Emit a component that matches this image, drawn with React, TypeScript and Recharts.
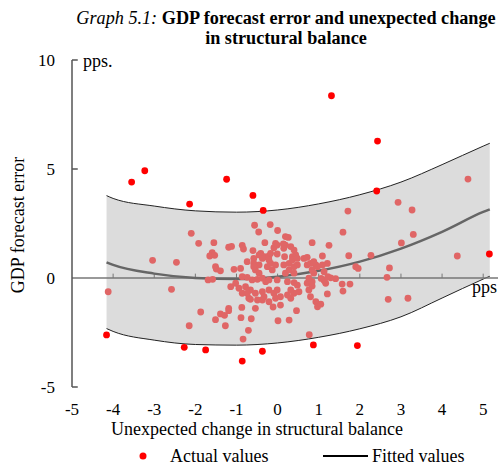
import { ComposedChart, Area, Line, Scatter, XAxis, YAxis, ReferenceLine } from 'recharts';

const FONT = '"Liberation Serif", "Times New Roman", serif';

// fitted quadratic and its confidence band, read at these x positions
const bandX = [-4.16, -4, -3, -2, -1, 0, 1, 2, 3, 4, 5, 5.16];
const fitted = [0.72, 0.6, 0.2, 0.0, -0.05, 0.06, 0.33, 0.75, 1.35, 2.12, 3.03, 3.15];
const bandHigh = [3.78, 3.65, 3.3, 3.08, 3.02, 3.12, 3.4, 3.82, 4.4, 5.2, 6.05, 6.18];
const bandLow = [-2.32, -2.45, -2.85, -3.05, -3.08, -2.98, -2.72, -2.33, -1.78, -0.92, -0.05, 0.08];

const xTicks = [-5, -4, -3, -2, -1, 0, 1, 2, 3, 4, 5];
const yTicks = [-5, 0, 5, 10];

// actual values outside the band (bright red)
const outsidePoints = [
  [-3.55, 4.4], [-3.23, 4.92], [-2.14, 3.39], [-1.24, 4.53], [-0.6, 3.79], [-0.35, 3.1],
  [1.31, 8.36], [2.43, 6.28], [2.41, 3.99], [5.15, 1.1], [-4.16, -2.61], [-2.27, -3.18],
  [-1.75, -3.3], [-0.86, -3.81], [-0.37, -3.36], [0.87, -3.07], [1.94, -3.1],
];

// actual values inside the band
const insidePoints = [
  [-0.56, 2.42], [-0.18, 2.45], [-0.46, 2.11], [0.0, 2.18], [-2.1, 2.05], [-1.92, 1.59],
  [-1.55, 1.62], [-1.19, 1.41], [-1.12, 1.45], [-0.86, 1.5], [-0.83, 1.33], [-0.6, 1.26],
  [-0.31, 1.62], [-0.05, 1.59], [-0.09, 1.39], [-1.59, 1.16], [-1.65, 1.01], [-1.53, 1.04],
  [-0.41, 1.13], [-0.32, 0.98], [-0.21, 1.01], [-0.17, 1.13], [-0.45, 1.06], [-0.58, 0.9],
  [-0.74, 0.75], [-3.04, 0.81], [-2.46, 0.72], [-1.51, 0.52], [-1.06, 0.4], [-0.9, 0.44],
  [-1.49, 0.41], [-1.39, 0.33], [-0.58, 0.67], [-0.54, 0.37], [-0.45, 0.22], [-0.25, 0.52],
  [-0.17, 0.67], [-0.13, 0.37], [-0.37, 0.9], [-0.21, 0.83], [-0.45, 0.6], [-0.58, 0.52],
  [-0.86, 0.06], [-0.74, 0.03], [-0.62, -0.09], [-0.49, -0.06], [-0.37, -0.01], [-0.29, -0.17],
  [-0.21, -0.09], [-1.69, -0.09], [-1.58, -0.06], [-1.14, -0.4], [-1.02, -0.24], [-0.94, -0.47],
  [-0.78, -0.4], [-0.66, -0.55], [-0.54, -0.7], [-0.37, -0.63], [-0.21, -0.55], [-0.09, -0.7],
  [-0.7, -0.93], [-0.37, -1.01], [-0.21, -1.09], [-0.49, -1.01], [-0.33, -0.86], [-0.66, -0.98],
  [-0.74, -0.7], [-0.86, -0.7], [-1.19, -1.39], [-0.54, -1.39], [-0.11, -1.33], [-4.12, -0.63],
  [-2.58, -0.52], [-1.87, -1.56], [-1.51, -1.91], [-2.15, -2.19], [-1.39, -1.65], [-1.29, -1.71],
  [-1.19, -1.5], [-1.27, -2.19], [-0.89, -1.82], [-0.64, -1.87], [-0.87, -1.35], [-0.71, -2.4],
  [-0.84, -2.8], [0.01, -1.96], [0.28, -1.93], [0.46, -1.5], [-0.05, -0.93], [0.07, -0.86],
  [0.24, -0.78], [0.4, -0.7], [0.52, -0.63], [0.07, -1.24], [0.32, -0.93], [-0.01, -0.55],
  [0.76, -0.55], [0.8, -0.86], [0.93, -1.09], [0.97, -1.32], [1.05, -1.2], [0.77, -2.6],
  [1.57, -0.28], [1.76, -0.28], [1.59, -0.6], [1.41, -0.03], [1.21, -0.73], [1.13, -0.12],
  [1.06, -0.02], [1.17, -0.24], [1.29, 0.01], [1.22, 0.06], [1.13, 0.29], [0.72, -0.24],
  [0.84, -0.37], [0.84, -0.17], [0.76, -0.01], [0.48, -0.33], [0.32, -0.55], [0.4, -0.21],
  [0.24, -0.17], [-0.01, -0.09], [0.19, 0.22], [0.4, 0.22], [0.28, 0.37], [0.88, 0.22],
  [0.84, 0.37], [-0.05, 0.6], [0.15, 0.6], [0.28, 0.67], [0.4, 0.52], [0.48, 0.6],
  [0.72, 0.6], [0.93, 0.6], [0.97, 0.52], [1.09, 0.6], [1.21, 0.67], [0.8, 0.67],
  [0.88, 0.75], [0.64, 0.9], [0.72, 0.95], [0.36, 0.98], [0.17, 0.98], [0.44, 1.06],
  [-0.01, 1.1], [1.09, 1.01], [0.36, 0.83], [0.48, 0.9], [-0.01, 1.51], [0.19, 1.51],
  [0.32, 1.44], [0.14, 1.56], [0.15, 1.36], [0.4, 1.28], [0.84, 1.62], [0.19, 1.9],
  [0.26, 1.86], [1.25, 1.5], [1.59, 2.1], [1.71, 3.07], [2.93, 3.47], [3.27, 3.12],
  [3.3, 2.0], [3.01, 1.61], [4.63, 4.54], [4.37, 1.01], [1.73, 1.02], [2.27, 1.04],
  [2.72, 0.46], [1.9, 0.52], [1.96, 0.44], [2.66, 0.03], [2.69, -0.98], [3.17, -0.93],
];

const chartData = bandX.map((x, i) => ({ x, band: [bandLow[i], bandHigh[i]], fit: fitted[i] }));
const toXY = (pts: number[][]) => pts.map(([x, y]) => ({ x, y }));

const XTick = ({ x, y, payload }: any) => (
  <text x={x} y={y + 28} textAnchor="middle" fontFamily={FONT} fontSize={17} fill="#000">
    {payload.value}
  </text>
);

const YTick = ({ x, y, payload }: any) => (
  <text x={x - 17} y={y + 6} textAnchor="end" fontFamily={FONT} fontSize={17} fill="#000">
    {payload.value}
  </text>
);

export default function App() {
  return (
    <div style={{ position: 'absolute', left: 0, top: 0, width: 498, height: 467, background: '#fff' }}>
      <ComposedChart
        width={498}
        height={467}
        data={chartData}
        margin={{ top: 60, right: 0, left: 0, bottom: 50 }}
      >
        <XAxis
          dataKey="x"
          type="number"
          domain={[-5, 5.36]}
          ticks={xTicks}
          allowDataOverflow
          axisLine={false}
          tickLine={false}
          tickSize={0}
          tickMargin={0}
          height={30}
          tick={<XTick />}
        />
        <YAxis
          type="number"
          domain={[-5, 10]}
          ticks={yTicks}
          width={72}
          axisLine={{ stroke: '#555', strokeWidth: 1.5 }}
          tickLine={false}
          tickSize={0}
          tickMargin={0}
          tick={<YTick />}
        />
        <Area
          type="monotone"
          dataKey="band"
          fill="#dcdcdc"
          fillOpacity={1}
          stroke="#222"
          strokeWidth={1}
          isAnimationActive={false}
        />
        <Scatter
          data={toXY(insidePoints)}
          dataKey="y"
          isAnimationActive={false}
          shape={(p: any) => <circle cx={p.cx} cy={p.cy} r={3.4} fill="#e06666" />}
        />
        <Scatter
          data={toXY(outsidePoints)}
          dataKey="y"
          isAnimationActive={false}
          shape={(p: any) => <circle cx={p.cx} cy={p.cy} r={3.4} fill="#ff0000" />}
        />
        <ReferenceLine y={0} stroke="#777" strokeWidth={1.5} />
        {xTicks.slice(1).map((t) => (
          <ReferenceLine
            key={t}
            segment={[{ x: t, y: 0 }, { x: t, y: 0.2 }]}
            stroke="#777"
            strokeWidth={1}
          />
        ))}
        {yTicks.filter((t) => t !== 0).map((t) => (
          <ReferenceLine
            key={'y' + t}
            segment={[{ x: -5, y: t }, { x: -4.86, y: t }]}
            stroke="#555"
            strokeWidth={1.5}
          />
        ))}
        <Line
          type="monotone"
          dataKey="fit"
          stroke="#666"
          strokeWidth={2.5}
          dot={false}
          isAnimationActive={false}
        />
      </ComposedChart>

      <svg
        width={498}
        height={467}
        style={{ position: 'absolute', left: 0, top: 0, pointerEvents: 'none' }}
        fontFamily={FONT}
        fill="#000"
      >
        <text x={286} y={24} textAnchor="middle" fontSize={18.2}>
          <tspan fontStyle="italic">Graph 5.1: </tspan>
          <tspan fontWeight="bold">GDP forecast error and unexpected change</tspan>
        </text>
        <text x={286} y={44} textAnchor="middle" fontSize={18.2} fontWeight="bold">
          in structural balance
        </text>
        <text x={83} y={67} fontSize={18}>pps.</text>
        <text x={472} y={293} fontSize={18}>pps</text>
        <text transform="translate(24,225) rotate(-90)" textAnchor="middle" fontSize={18}>
          GDP forecast error
        </text>
        <text x={257} y={435} textAnchor="middle" fontSize={18}>
          Unexpected change in structural balance
        </text>
        <circle cx={143} cy={456} r={3.5} fill="#ff0000" />
        <text x={170} y={462} fontSize={18}>Actual values</text>
        <line x1={323} y1={456} x2={368} y2={456} stroke="#000" strokeWidth={2} />
        <text x={372} y={462} fontSize={18}>Fitted values</text>
      </svg>
    </div>
  );
}
